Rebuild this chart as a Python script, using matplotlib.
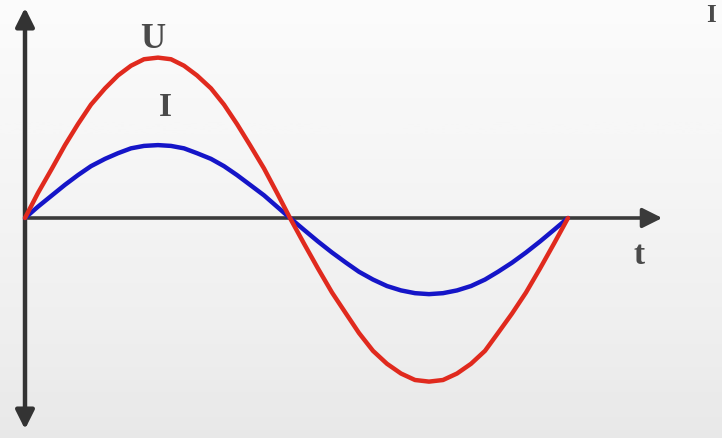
import numpy as np
import matplotlib.pyplot as plt
from matplotlib.patches import FancyArrowPatch

# time samples (arbitrary units along t axis) and readings of U and I
t = [0, 13, 27, 40, 53, 66, 80, 93, 106, 119, 133, 146, 159, 172, 186,
     199, 212, 225, 239, 252, 265,
     279, 293, 307, 321, 334, 348, 362, 376, 390, 404, 418, 432, 446, 460,
     473, 487, 501, 515, 529, 543]
u = [0.0, 0.155, 0.306, 0.45, 0.58, 0.70, 0.80, 0.88, 0.94, 0.98, 0.99,
     0.98, 0.94, 0.88, 0.80, 0.70, 0.58, 0.45, 0.306, 0.155, 0.0,
     -0.158, -0.312, -0.46, -0.59, -0.71, -0.82, -0.90, -0.96, -1.0, -1.01,
     -1.0, -0.96, -0.90, -0.82, -0.71, -0.59, -0.46, -0.312, -0.158, 0.0]
i = [0.0, 0.07, 0.14, 0.205, 0.265, 0.32, 0.365, 0.40, 0.43, 0.445, 0.45,
     0.445, 0.43, 0.40, 0.365, 0.32, 0.265, 0.205, 0.14, 0.07, 0.0,
     -0.073, -0.145, -0.213, -0.276, -0.332, -0.38, -0.42, -0.447, -0.464, -0.47,
     -0.464, -0.447, -0.42, -0.38, -0.332, -0.276, -0.213, -0.145, -0.073, 0.0]

fig = plt.figure(figsize=(7.22, 4.38), dpi=100)

# light grey gradient background
bg = fig.add_axes([0, 0, 1, 1])
grad = np.linspace(0, 1, 256).reshape(-1, 1)
bg.imshow(grad, aspect='auto', cmap='Greys', vmin=-0.2, vmax=7,
          extent=[0, 1, 0, 1], origin='upper')
bg.axis('off')

ax = fig.add_axes([0, 0, 1, 1])
ax.patch.set_visible(False)
ax.set_xlim(-25, 697)
ax.set_ylim(-220 / 162, 218 / 162)
ax.axis('off')

# axes arrows
ax.add_patch(FancyArrowPatch((0, -214 / 162), (0, 213 / 162), arrowstyle='<|-|>',
                             mutation_scale=28, lw=3.2, color='#333333'))
ax.add_patch(FancyArrowPatch((0, 0), (640, 0), arrowstyle='-|>',
                             mutation_scale=30, lw=2.6, color='#3a3a3a'))

ax.plot(t, i, color='#1515c8', lw=3.2, solid_capstyle='round')
ax.plot(t, u, color='#e02a1e', lw=3.2, solid_capstyle='round')

txt = dict(family='Liberation Serif', color='#4a4a4a', ha='center', va='center',
           fontweight='bold')
ax.text(128, 1.10, 'U', fontsize=25, **txt)
ax.text(140, 0.68, 'I', fontsize=24, **txt)
ax.text(614, -0.23, 't', fontsize=24, **txt)
ax.text(686, 1.25, 'I', fontsize=18, **txt)

fig.savefig('out.png', dpi=100)
